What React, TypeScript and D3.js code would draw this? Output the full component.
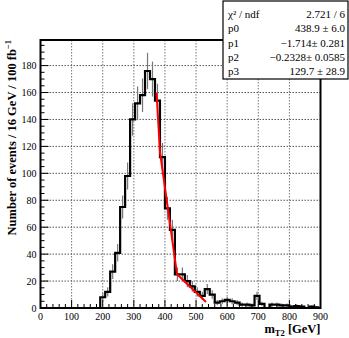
import React from "react";
import * as d3 from "d3";

// ---- data ----
const binWidth = 16; // GeV
const counts = [
  0, 0, 0, 0, 0, 0, 0, 0, 0, 0, 0, 0,
  8, 12, 27, 41, 75, 98, 140, 152, 158, 176, 170, 154,
  112, 74, 58, 25, 25, 20, 16, 12, 9, 14, 10, 4,
  5, 6, 5, 4, 2.5, 2.5, 2, 9, 3, 0, 2.5, 2.5,
  2, 2, 1, 1.5, 1, 0, 1, 0.5,
];
const errors = [
  0, 0, 0, 0, 0, 0, 0, 0, 0, 0, 0, 0,
  3, 3.5, 5.5, 6.5, 8.5, 10, 12, 12.5, 12.5, 13.5, 13, 12.5,
  10.5, 8.5, 7.5, 5, 5, 4.5, 4, 3.5, 3, 3.8, 3.2, 2,
  2.2, 2.4, 2.2, 2, 1.6, 1.6, 1.4, 3, 1.7, 0, 1.6, 1.6,
  1.4, 1.4, 1, 1.2, 1, 0, 1, 0.7,
];
const fitX = [373, 384, 438.9, 532];
const fitY = [160, 116, 25, 4.5];
const xTicks = [0, 100, 200, 300, 400, 500, 600, 700, 800, 900];
const yTicks = [0, 20, 40, 60, 80, 100, 120, 140, 160, 180];
const statLabels = ["χ² / ndf", "p0", "p1", "p2", "p3"];
const statValues = ["2.721 / 6", "438.9 ± 6.0", "−1.714± 0.281", "−0.2328± 0.0585", "129.7 ± 28.9"];

const W = 349;
const H = 338;
const frame = { left: 40.5, right: 320.5, top: 40, bottom: 308 };
const FONT = "'Liberation Serif', 'DejaVu Serif', serif";

export default function App() {
  const x = d3.scaleLinear().domain([0, 900]).range([frame.left, frame.right]);
  const y = d3.scaleLinear().domain([0, 199]).range([frame.bottom, frame.top]);

  const edges = counts.map((_, i) => i * binWidth);
  const stepPts: [number, number][] = counts.map((c, i) => [edges[i], c]);
  stepPts.push([counts.length * binWidth, counts[counts.length - 1]]);
  const histPath = d3
    .line<[number, number]>()
    .x((d) => x(d[0]))
    .y((d) => y(d[1]))
    .curve(d3.curveStepAfter)(stepPts) as string;

  const fitPath = d3
    .line<number>()
    .x((d) => x(d))
    .y((_, i) => y(fitY[i]))(fitX) as string;

  const xMinor = d3.range(0, 901, 20);
  const yMinor = d3.range(0, 196, 5);

  const box = { x0: 223, x1: 348, y0: 1, y1: 79 };
  const rowY = (i: number) => 18 + i * 14.3;

  return (
    <svg
      width={W}
      height={H}
      style={{ position: "absolute", left: 0, top: 0, background: "#fff" }}
      fontFamily={FONT}
    >
      <rect x={0} y={0} width={W} height={H} fill="#fff" />
      {/* grid */}
      {xTicks.slice(1, -1).map((t) => (
        <line
          key={"gx" + t}
          x1={x(t)}
          x2={x(t)}
          y1={frame.top}
          y2={frame.bottom}
          stroke="#777"
          strokeWidth={1}
          strokeDasharray="1.5,1.5"
        />
      ))}
      {yTicks.slice(1).map((t) => (
        <line
          key={"gy" + t}
          x1={frame.left}
          x2={frame.right}
          y1={y(t)}
          y2={y(t)}
          stroke="#555"
          strokeWidth={1}
          strokeDasharray="1.5,1.5"
        />
      ))}
      {/* error bars */}
      {counts.map((c, i) =>
        c > 0 ? (
          <line
            key={"e" + i}
            x1={x(edges[i] + binWidth / 2)}
            x2={x(edges[i] + binWidth / 2)}
            y1={y(c - errors[i])}
            y2={y(c + errors[i])}
            stroke="#777"
            strokeWidth={1.2}
          />
        ) : null
      )}
      {/* histogram */}
      <path d={histPath} fill="none" stroke="#000" strokeWidth={2.2} />
      {/* fit */}
      <path d={fitPath} fill="none" stroke="#f00" strokeWidth={2} />
      {/* ticks */}
      {xMinor.map((t) => (
        <line
          key={"tx" + t}
          x1={x(t)}
          x2={x(t)}
          y1={frame.bottom}
          y2={frame.bottom - (t % 100 === 0 ? 8 : 4)}
          stroke="#000"
          strokeWidth={1}
        />
      ))}
      {yMinor.map((t) => (
        <line
          key={"ty" + t}
          x1={frame.left}
          x2={frame.left + (t % 20 === 0 ? 8 : 4)}
          y1={y(t)}
          y2={y(t)}
          stroke="#000"
          strokeWidth={1}
        />
      ))}
      {/* frame */}
      <rect
        x={frame.left}
        y={frame.top}
        width={frame.right - frame.left}
        height={frame.bottom - frame.top}
        fill="none"
        stroke="#000"
        strokeWidth={2}
      />
      {/* tick labels */}
      {xTicks.map((t) => (
        <text key={"lx" + t} x={x(t)} y={frame.bottom + 12} fontSize={10} textAnchor="middle" fill="#000">
          {t}
        </text>
      ))}
      {yTicks.map((t) => (
        <text
          key={"ly" + t}
          x={frame.left - 4}
          y={y(t) + 3.5}
          fontSize={10}
          textAnchor="end"
          fill="#000"
        >
          {t}
        </text>
      ))}
      {/* axis titles */}
      <text x={frame.right} y={333} fontSize={12.5} fontWeight="bold" textAnchor="end" fill="#000">
        m<tspan fontSize={8.5} dy={3}>T2</tspan>
        <tspan dy={-3}> [GeV]</tspan>
      </text>
      <text
        transform={`translate(16, ${frame.top}) rotate(-90)`}
        fontSize={12.5}
        fontWeight="bold"
        textAnchor="end"
        fill="#000"
      >
        Number of events / 16 GeV / 100 fb<tspan fontSize={8.5} dy={-5}>−1</tspan>
      </text>
      {/* stats box */}
      <rect
        x={box.x0}
        y={box.y0}
        width={box.x1 - box.x0}
        height={box.y1 - box.y0}
        fill="#fff"
        stroke="#000"
        strokeWidth={1.2}
      />
      {statLabels.map((s, i) => (
        <text key={"sl" + i} x={box.x0 + 5} y={rowY(i)} fontSize={11} fill="#000">
          {s}
        </text>
      ))}
      {statValues.map((s, i) => (
        <text key={"sv" + i} x={box.x1 - 3} y={rowY(i)} fontSize={11} textAnchor="end" fill="#000">
          {s}
        </text>
      ))}
    </svg>
  );
}
